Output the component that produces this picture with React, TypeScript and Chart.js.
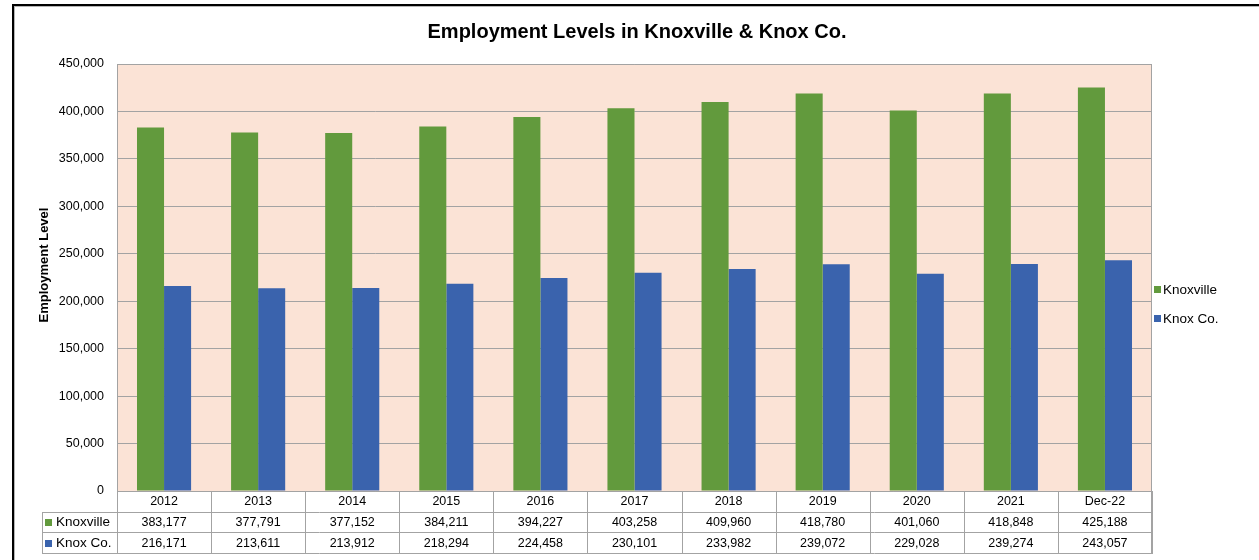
import React, { useEffect, useRef } from 'react';
import { Chart, registerables } from 'chart.js';

Chart.register(...registerables);

const categories = ['2012', '2013', '2014', '2015', '2016', '2017', '2018', '2019', '2020', '2021', 'Dec-22'];
const knoxville = [383177, 377791, 377152, 384211, 394227, 403258, 409960, 418780, 401060, 418848, 425188];
const knoxCo = [216171, 213611, 213912, 218294, 224458, 230101, 233982, 239072, 229028, 239274, 243057];
const seriesNames = ['Knoxville', 'Knox Co.'];
const seriesColors = ['#629A3D', '#3A63AD'];
const yMin = 0;
const yMax = 450000;
const yStep = 50000;
const chartTitle = 'Employment Levels in Knoxville & Knox Co.';
const yTitle = 'Employment Level';

const FONT = '"Liberation Sans", Arial, sans-serif';
const fmt = (v: number) => v.toLocaleString('en-US');

const decorPlugin = {
  id: 'decor',
  beforeDraw(chart: any) {
    const { ctx, chartArea: a, width, height } = chart;
    ctx.save();
    ctx.fillStyle = '#ffffff';
    ctx.fillRect(0, 0, width, height);
    ctx.fillStyle = '#FBE3D6';
    ctx.fillRect(a.left, a.top, a.right - a.left, a.bottom - a.top);
    ctx.restore();
  },
  afterDraw(chart: any) {
    const { ctx, chartArea: a, width, height } = chart;
    const n = categories.length;
    const colW = (a.right - a.left) / n;
    const rowH = 20.7;
    const y0 = a.bottom;
    const labelLeft = 42;
    const lineColor = '#a3a3a3';
    ctx.save();

    // plot border
    ctx.strokeStyle = lineColor;
    ctx.lineWidth = 1;
    ctx.beginPath();
    ctx.moveTo(a.left + 0.5, a.bottom);
    ctx.lineTo(a.left + 0.5, a.top + 0.5);
    ctx.lineTo(a.right - 0.5, a.top + 0.5);
    ctx.lineTo(a.right - 0.5, a.bottom);
    ctx.stroke();

    // table lines
    ctx.beginPath();
    ctx.moveTo(a.left, Math.round(y0) + 0.5);
    ctx.lineTo(a.right, Math.round(y0) + 0.5);
    for (let r = 1; r <= 3; r++) {
      const yy = Math.round(y0 + r * rowH) + 0.5;
      ctx.moveTo(labelLeft, yy);
      ctx.lineTo(a.right, yy);
    }
    for (let c = 0; c <= n; c++) {
      const xx = Math.round(a.left + c * colW) + 0.5;
      ctx.moveTo(xx, y0);
      ctx.lineTo(xx, Math.round(y0 + 3 * rowH) + 0.5);
    }
    ctx.moveTo(labelLeft + 0.5, Math.round(y0 + rowH));
    ctx.lineTo(labelLeft + 0.5, Math.round(y0 + 3 * rowH) + 0.5);
    ctx.stroke();
    ctx.lineWidth = 2;
    ctx.beginPath();
    ctx.moveTo(a.right, y0);
    ctx.lineTo(a.right, Math.round(y0 + 3 * rowH) + 1);
    ctx.stroke();

    // table text
    ctx.fillStyle = '#000';
    ctx.font = `12.5px ${FONT}`;
    ctx.textAlign = 'center';
    ctx.textBaseline = 'middle';
    const rows = [knoxville, knoxCo];
    for (let c = 0; c < n; c++) {
      const cx = a.left + (c + 0.5) * colW;
      ctx.fillText(categories[c], cx, y0 + rowH / 2 + 0.5);
      rows.forEach((vals, r) => {
        ctx.fillText(fmt(vals[c]), cx, y0 + (r + 1.5) * rowH + 0.5);
      });
    }
    ctx.textAlign = 'left';
    seriesNames.forEach((name, r) => {
      const cy = y0 + (r + 1.5) * rowH;
      ctx.fillStyle = seriesColors[r];
      ctx.fillRect(45, Math.round(cy - 3), 7, 7);
      ctx.fillStyle = '#000';
      ctx.font = `13.5px ${FONT}`;
      ctx.fillText(name, 56, cy + 0.5);
    });

    // legend
    const legendY = [289, 318];
    seriesNames.forEach((name, r) => {
      ctx.fillStyle = seriesColors[r];
      ctx.fillRect(1154, legendY[r] - 3, 7, 7);
      ctx.fillStyle = '#000';
      ctx.font = `13.5px ${FONT}`;
      ctx.fillText(name, 1163, legendY[r] + 1);
    });

    // title
    ctx.fillStyle = '#000';
    ctx.font = `bold 20px ${FONT}`;
    ctx.textAlign = 'center';
    ctx.fillText(chartTitle, 637, 32);

    // y title
    ctx.save();
    ctx.translate(44, 265);
    ctx.rotate(-Math.PI / 2);
    ctx.font = `bold 13px ${FONT}`;
    ctx.fillText(yTitle, 0, 0);
    ctx.restore();

    // frame
    ctx.fillStyle = '#000';
    ctx.fillRect(12, 4, width, 2);
    ctx.fillRect(12, 4, 2, height);
    ctx.fillStyle = '#b5b5b5';
    ctx.fillRect(14, 6, width, 1);
    ctx.fillRect(14, 6, 1, height);
    ctx.restore();
  },
};

export default function App() {
  const ref = useRef<HTMLCanvasElement>(null);
  useEffect(() => {
    if (!ref.current) return;
    const chart = new Chart(ref.current, {
      type: 'bar',
      data: {
        labels: categories,
        datasets: [
          { label: seriesNames[0], data: knoxville, backgroundColor: seriesColors[0] },
          { label: seriesNames[1], data: knoxCo, backgroundColor: seriesColors[1] },
        ],
      },
      options: {
        animation: false,
        responsive: false,
        devicePixelRatio: 1,
        layout: { padding: { left: 0, top: 64, right: 107, bottom: 69 } },
        datasets: { bar: { categoryPercentage: 0.575, barPercentage: 1.0 } },
        plugins: { legend: { display: false }, title: { display: false }, tooltip: { enabled: false } },
        scales: {
          x: {
            ticks: { display: false },
            grid: { display: false, drawTicks: false },
            border: { display: false },
            afterFit: (s: any) => { s.height = 0; },
          },
          y: {
            min: yMin,
            max: yMax,
            ticks: {
              stepSize: yStep,
              padding: 13,
              color: '#000',
              font: { family: FONT, size: 12.5 },
              callback: (v: any) => fmt(Number(v)),
            },
            grid: { color: '#a3a3a3', drawTicks: false, lineWidth: 1 },
            border: { display: false },
            afterFit: (s: any) => { s.width = 117; },
          },
        },
      },
      plugins: [decorPlugin],
    });
    return () => chart.destroy();
  }, []);
  return (
    <div style={{ position: 'absolute', left: 0, top: 0 }}>
      <canvas ref={ref} width={1259} height={560} style={{ display: 'block', width: 1259, height: 560 }} />
    </div>
  );
}
